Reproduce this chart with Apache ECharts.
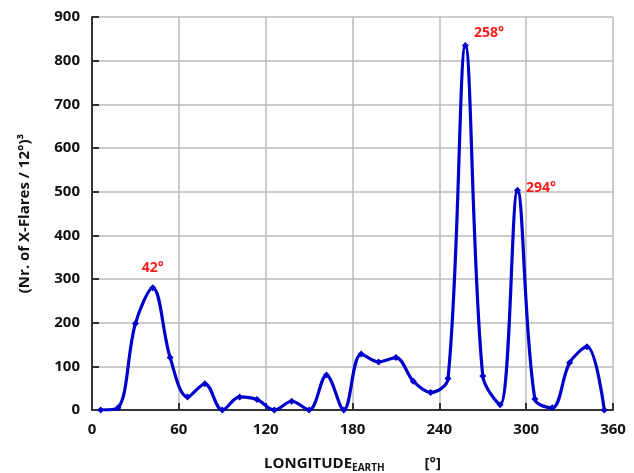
<!DOCTYPE html>
<html>
<head>
<meta charset="utf-8">
<script src="https://cdn.jsdelivr.net/npm/echarts@6/dist/echarts.min.js"></script>
<style>
  html, body { margin: 0; padding: 0; background: #fff; }
  #main { width: 634px; height: 473px; }
</style>
</head>
<body>
<div id="main"></div>
<script>
// bin centres (12 deg bins) and counts
var longitude = [6, 18, 30, 42, 54, 66, 78, 90, 102, 114, 126, 138, 150, 162, 174,
                 186, 198, 210, 222, 234, 246, 258, 270, 282, 294, 306, 318, 330, 342, 354];
var flares = [0, 5, 198, 280, 120, 30, 60, 0, 30, 24, 0, 20, 0, 80, 0,
              128, 110, 120, 66, 40, 72, 835, 78, 12, 503, 25, 5, 108, 145, 0];

// annotated peaks
var peakLon = [42, 258, 294];
var peakText = ['42°', '258°', '294°'];
var peakPos = ['top', 'right', 'right'];

var xTicks = { min: 0, max: 360, step: 60 };
var yTicks = { min: 0, max: 900, step: 100 };

var seriesData = longitude.map(function (lon, i) {
    var item = { value: [lon, flares[i]] };
    var k = peakLon.indexOf(lon);
    if (k >= 0) {
        item.label = {
            show: true,
            formatter: peakText[k],
            position: peakPos[k],
            offset: k === 0 ? [0, -4] : (k === 1 ? [0, -12] : [0, -2])
        };
    }
    return item;
});

var font = 'Open Sans';

var option = {
    animation: false,
    grid: { left: 92, right: 21, top: 17, bottom: 63, outerBoundsMode: 'none' },
    xAxis: {
        type: 'value',
        min: xTicks.min,
        max: xTicks.max,
        interval: xTicks.step,
        name: '{a|LONGITUDE}{b|EARTH}{c|[°]}',
        nameLocation: 'middle',
        nameGap: 45,
        nameTextStyle: {
            rich: {
                a: { fontFamily: font, fontWeight: 'bold', fontSize: 15, color: '#111' },
                b: { fontFamily: font, fontWeight: 'bold', fontSize: 10, color: '#111', verticalAlign: 'bottom', padding: [8, 0, 0, 0] },
                c: { fontFamily: font, fontWeight: 'bold', fontSize: 15, color: '#111', padding: [0, 0, 0, 40] }
            }
        },
        axisLine: { show: true, lineStyle: { color: '#333', width: 2 } },
        axisTick: { show: true, inside: true, length: 7, lineStyle: { color: '#333', width: 2 } },
        axisLabel: { fontFamily: font, fontWeight: 'bold', fontSize: 15, color: '#111', margin: 12 },
        splitLine: { show: true, lineStyle: { color: '#bbb', width: 1.5 } }
    },
    yAxis: {
        type: 'value',
        min: yTicks.min,
        max: yTicks.max,
        interval: yTicks.step,
        name: '(Nr. of X-Flares / 12°)³',
        nameLocation: 'middle',
        nameGap: 60,
        nameTextStyle: { fontFamily: font, fontWeight: 'bold', fontSize: 15, color: '#111' },
        axisLine: { show: true, lineStyle: { color: '#333', width: 2 } },
        axisTick: { show: true, inside: true, length: 7, lineStyle: { color: '#333', width: 2 } },
        axisLabel: { fontFamily: font, fontWeight: 'bold', fontSize: 15, color: '#111', margin: 12 },
        splitLine: { show: true, lineStyle: { color: '#bbb', width: 1.5 } }
    },
    series: [
        {
            type: 'line',
            data: seriesData,
            smooth: 0.35,
            symbol: 'diamond',
            symbolSize: 7,
            itemStyle: { color: '#0000cc' },
            lineStyle: { color: '#0000cc', width: 3.2 },
            label: {
                show: false,
                color: '#ff1a1a',
                fontFamily: font,
                fontWeight: 'bold',
                fontSize: 14
            }
        }
    ]
};

var chart = echarts.init(document.getElementById('main'));
chart.setOption(option);
</script>
</body>
</html>
